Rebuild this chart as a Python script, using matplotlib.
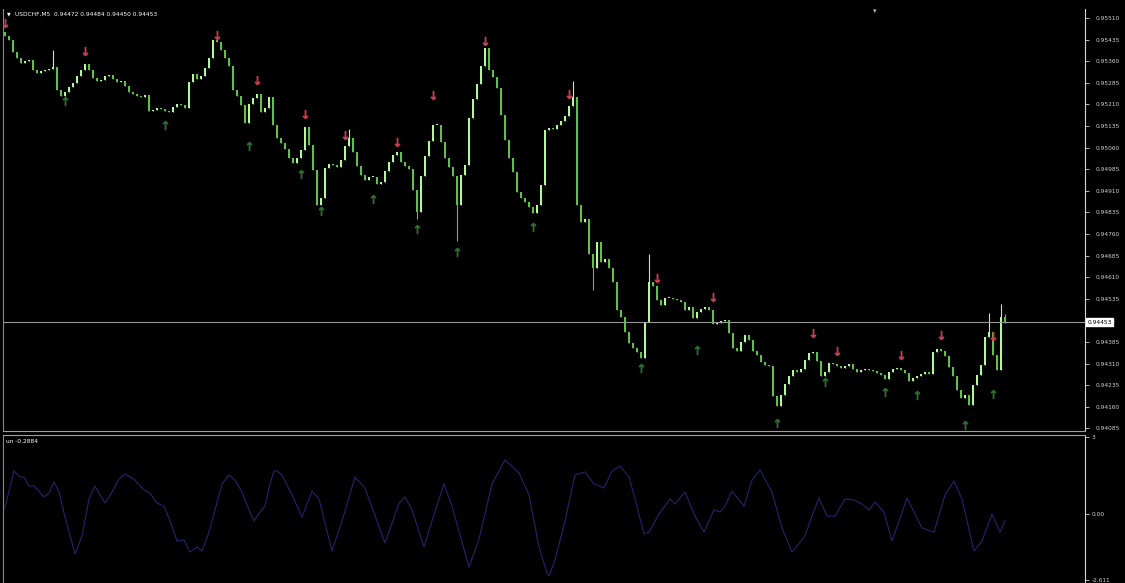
import numpy as np
import matplotlib
matplotlib.use('Agg')
import matplotlib.pyplot as plt

# USDCHF M5 closes, in points (1e-5)
close_pts = [
    95447, 95434, 95392, 95371, 95354, 95361, 95364, 95329, 95319, 95326,
    95329, 95333, 95340, 95260, 95239, 95253, 95270, 95284, 95309, 95329,
    95350, 95329, 95302, 95291, 95295, 95309, 95312, 95298, 95288, 95291,
    95274, 95253, 95246, 95239, 95236, 95243, 95187, 95191, 95198, 95194,
    95187, 95184, 95201, 95211, 95208, 95198, 95288, 95316, 95298, 95309,
    95336, 95371, 95434, 95427, 95399, 95371, 95343, 95260, 95239, 95208,
    95145, 95211, 95232, 95246, 95184, 95198, 95236, 95139, 95093, 95076,
    95055, 95024, 95007, 95024, 95052, 95132, 95069, 94982, 94861, 94885,
    94989, 95003, 95000, 94993, 95017, 95066, 95093, 95045, 94996, 94965,
    94948, 94958, 94958, 94934, 94941, 94979, 95010, 95034, 95045, 95010,
    94996, 94986, 94913, 94836, 94961, 95031, 95083, 95139, 95139, 95080,
    95024, 94993, 94961, 94861, 94965, 95000, 95163, 95229, 95281, 95343,
    95406, 95329, 95305, 95267, 95173, 95086, 95024, 94975, 94906, 94885,
    94871, 94854, 94833, 94861, 94930, 95121, 95128, 95125, 95139, 95152,
    95170, 95205, 95236, 94861, 94802, 94812, 94691, 94642, 94732, 94663,
    94673, 94642, 94593, 94496, 94472, 94420, 94382, 94364, 94350, 94330,
    94455, 94593, 94580, 94531, 94514, 94538, 94538, 94534, 94531, 94524,
    94496, 94507, 94468, 94489, 94500, 94507, 94496, 94448, 94451, 94458,
    94462, 94416, 94364, 94354, 94385, 94409, 94392, 94354, 94340, 94316,
    94305, 94302, 94198, 94163, 94201, 94239, 94267, 94288, 94281, 94291,
    94323, 94347, 94350, 94319, 94267, 94281, 94312, 94309, 94302, 94295,
    94302, 94309, 94291, 94281, 94288, 94291, 94288, 94284, 94277, 94271,
    94257, 94281, 94291, 94295, 94288, 94277, 94250, 94260, 94267, 94274,
    94281, 94274, 94350, 94361, 94354, 94337, 94298, 94267, 94218, 94191,
    94201, 94166, 94236, 94271, 94305, 94402, 94420, 94340, 94288, 94472,
    94453,
]
first_open_pts = 95462
high_spikes = {12: 95399, 86: 95126, 142: 95292, 161: 94691, 246: 94486, 249: 94517, 250: 94484}
low_spikes = {103: 94812, 113: 94736, 147: 94566, 250: 94450}

# signal arrows (bar index, price in points)
sell_bars = [0, 20, 53, 63, 75, 85, 98, 107, 120, 141, 163, 177, 202, 208, 224, 234, 247]
sell_pts = [95493, 95395, 95451, 95295, 95177, 95104, 95080, 95243, 95430, 95246,
            94607, 94541, 94416, 94354, 94340, 94409, 94406]
buy_bars = [15, 40, 61, 74, 79, 92, 103, 113, 132, 159, 173, 193, 205, 220, 228, 240, 247]
buy_pts = [95222, 95139, 95066, 94968, 94840, 94882, 94777, 94698, 94784, 94295,
           94357, 94104, 94246, 94212, 94201, 94097, 94205]

# oscillator "un"
osc_bar = [0, 2.25, 3.75, 4.75, 6, 7.25, 9.75, 11, 12.25, 13.5, 15, 17.5, 19.25, 21,
           22.5, 23.75, 25, 26.75, 28.5, 30, 32.25, 34.75, 36.25, 38, 39.75, 41.25,
           43, 44.75, 46.25, 48, 49.25, 51, 52.5, 54.25, 56, 57.5, 59.25, 61, 62.25,
           63.75, 65, 66.25, 67.25, 68, 69.25, 71.75, 74.25, 76.75, 78.5, 81.75,
           84.25, 87.5, 90, 95, 98.5, 100, 101.75, 104.75, 106.75, 109.75, 111.75,
           116, 118.5, 121.75, 125, 128.5, 131, 133.5, 135.5, 136, 137.5, 140,
           142.5, 145, 147.25, 149.75, 151.75, 153.75, 156, 157.5, 159.75, 161,
           163.5, 166.25, 167.5, 170, 172.25, 174.75, 177.25, 178.75, 180, 181.75,
           184.75, 186.75, 188.75, 191.75, 194.25, 196.75, 200, 201.75, 203.5,
           205.5, 207.5, 210, 212.25, 214.25, 216, 217.5, 219.75, 221.75, 225.5,
           229.25, 232.25, 235, 237.25, 239.25, 242.25, 244.25, 246.75, 248.75, 250]
osc_val = [0.22, 1.67, 1.43, 1.43, 1.08, 1.08, 0.65, 0.80, 1.24, 0.84, -0.14, -1.59,
           -0.88, 0.57, 1.08, 0.73, 0.41, 0.84, 1.35, 1.55, 1.35, 0.92, 0.80, 0.41,
           0.29, -0.29, -1.08, -1.04, -1.51, -1.31, -1.47, -0.73, 0.14, 1.16, 1.51,
           1.31, 0.84, 0.14, -0.29, 0.06, 0.29, 1.16, 1.67, 1.67, 1.51, 0.73, -0.14,
           0.88, 0.57, -1.47, -0.29, 1.43, 1.00, -1.16, 0.41, 0.65, 0.14, -1.31,
           -0.29, 1.16, 0.29, -2.10, -1.00, 1.16, 2.10, 1.59, 0.73, -1.31, -2.33,
           -2.45, -1.82, -0.29, 1.51, 1.63, 1.16, 1.00, 1.67, 1.86, 1.43, 0.57,
           -0.80, -0.73, -0.02, 0.57, 0.37, 0.84, -0.02, -0.73, 0.14, 0.06, 0.29,
           0.88, 0.29, 1.31, 1.71, 0.84, -0.57, -1.51, -0.88, -0.10, 0.61, -0.10,
           -0.10, 0.57, 0.53, 0.37, 0.14, 0.45, 0.06, -1.08, 0.61, -0.57, -0.73,
           0.73, 1.27, 0.57, -1.47, -1.08, -0.02, -0.73, -0.2884]

price_ticks = [0.95510, 0.95435, 0.95360, 0.95285, 0.95210, 0.95135, 0.95060, 0.94985,
               0.94910, 0.94835, 0.94760, 0.94685, 0.94610, 0.94535, 0.94385, 0.94310,
               0.94235, 0.94160, 0.94085]
osc_ticks = [3, 0.0, -2.611]
osc_tick_labels = ['3', '0.00', '-2.611']
header = 'USDCHF,M5  0.94472 0.94484 0.94450 0.94453'
last_price = 0.94453

closes = np.array(close_pts) / 1e5
opens = np.concatenate([[first_open_pts / 1e5], closes[:-1]])
highs = np.maximum(opens, closes)
lows = np.minimum(opens, closes)
for k, v in high_spikes.items():
    highs[k] = v / 1e5
for k, v in low_spikes.items():
    lows[k] = v / 1e5
idx = np.arange(len(closes))

bg = 'black'
fs = 4.2
fig = plt.figure(figsize=(11.25, 5.83), dpi=100, facecolor=bg)
ax = fig.add_axes([3 / 1125, 1 - 431 / 583, 1082 / 1125, 422 / 583], facecolor=bg)
ax2 = fig.add_axes([3 / 1125, 0, 1082 / 1125, 148 / 583], facecolor=bg)

up = closes >= opens
body_col = np.where(up, '#b6f49e', '#62bf4a')
ax.vlines(idx, lows, highs, colors=body_col, lw=0.8)
ax.bar(idx, np.maximum(np.abs(closes - opens), 0.00002), bottom=np.minimum(opens, closes),
       width=0.6, color=body_col, linewidth=0)

ax.scatter(sell_bars, np.array(sell_pts) / 1e5, marker='$\u2193$', s=38, color='#d03c50',
           linewidths=0.6, edgecolors='#d03c50', zorder=5)
ax.scatter(buy_bars, np.array(buy_pts) / 1e5, marker='$\u2191$', s=38, color='#2f6e2f',
           linewidths=0.6, edgecolors='#2f6e2f', zorder=5)

ax.axhline(last_price, color='#9a9a9a', lw=0.8)

ax.set_xlim(-0.5, 270)
ax.set_ylim(0.940761, 0.955413)
ax.yaxis.tick_right()
ax.set_yticks(price_ticks)
ax.set_yticklabels(['%.5f' % t for t in price_ticks])
ax.set_xticks([])
ax.tick_params(axis='y', colors='#cfcfcf', labelsize=fs, length=3, width=0.6, pad=5)
ax.spines['top'].set_visible(False)
ax.spines['left'].set_color('#8a8a8a')
ax.spines['bottom'].set_color('#a0a0a0')
ax.spines['right'].set_color('#d8d8d8')
ax.text(1.002, last_price, '%.5f' % last_price, transform=ax.get_yaxis_transform(),
        fontsize=fs, color='black', ha='left', va='center',
        bbox=dict(boxstyle='square,pad=0.25', fc='white', ec='white'))
ax.text(0.004, 0.988, '\u25bc', transform=ax.transAxes, fontsize=3.5, color='white', va='center')
ax.text(0.011, 0.988, header, transform=ax.transAxes, fontsize=fs, color='white', va='center')
fig.text(875 / 1125, 1 - 11 / 583, '\u25be', fontsize=5, color='#bbbbbb', ha='center', va='center')

ax2.plot(osc_bar, osc_val, color='#24246e', lw=0.8)
ax2.set_xlim(-0.5, 270)
ax2.set_ylim(-2.725, 3.078)
ax2.yaxis.tick_right()
ax2.set_yticks(osc_ticks)
ax2.set_yticklabels(osc_tick_labels)
ax2.set_xticks([])
ax2.tick_params(axis='y', colors='#cfcfcf', labelsize=fs, length=3, width=0.6, pad=2)
ax2.spines['bottom'].set_visible(False)
ax2.spines['top'].set_color('#a0a0a0')
ax2.spines['left'].set_color('#8a8a8a')
ax2.spines['right'].set_color('#d8d8d8')
ax2.text(0.003, 0.955, 'un -0.2884', transform=ax2.transAxes, fontsize=fs, color='white', va='center')

fig.savefig('out.png', dpi=100, facecolor=bg)
